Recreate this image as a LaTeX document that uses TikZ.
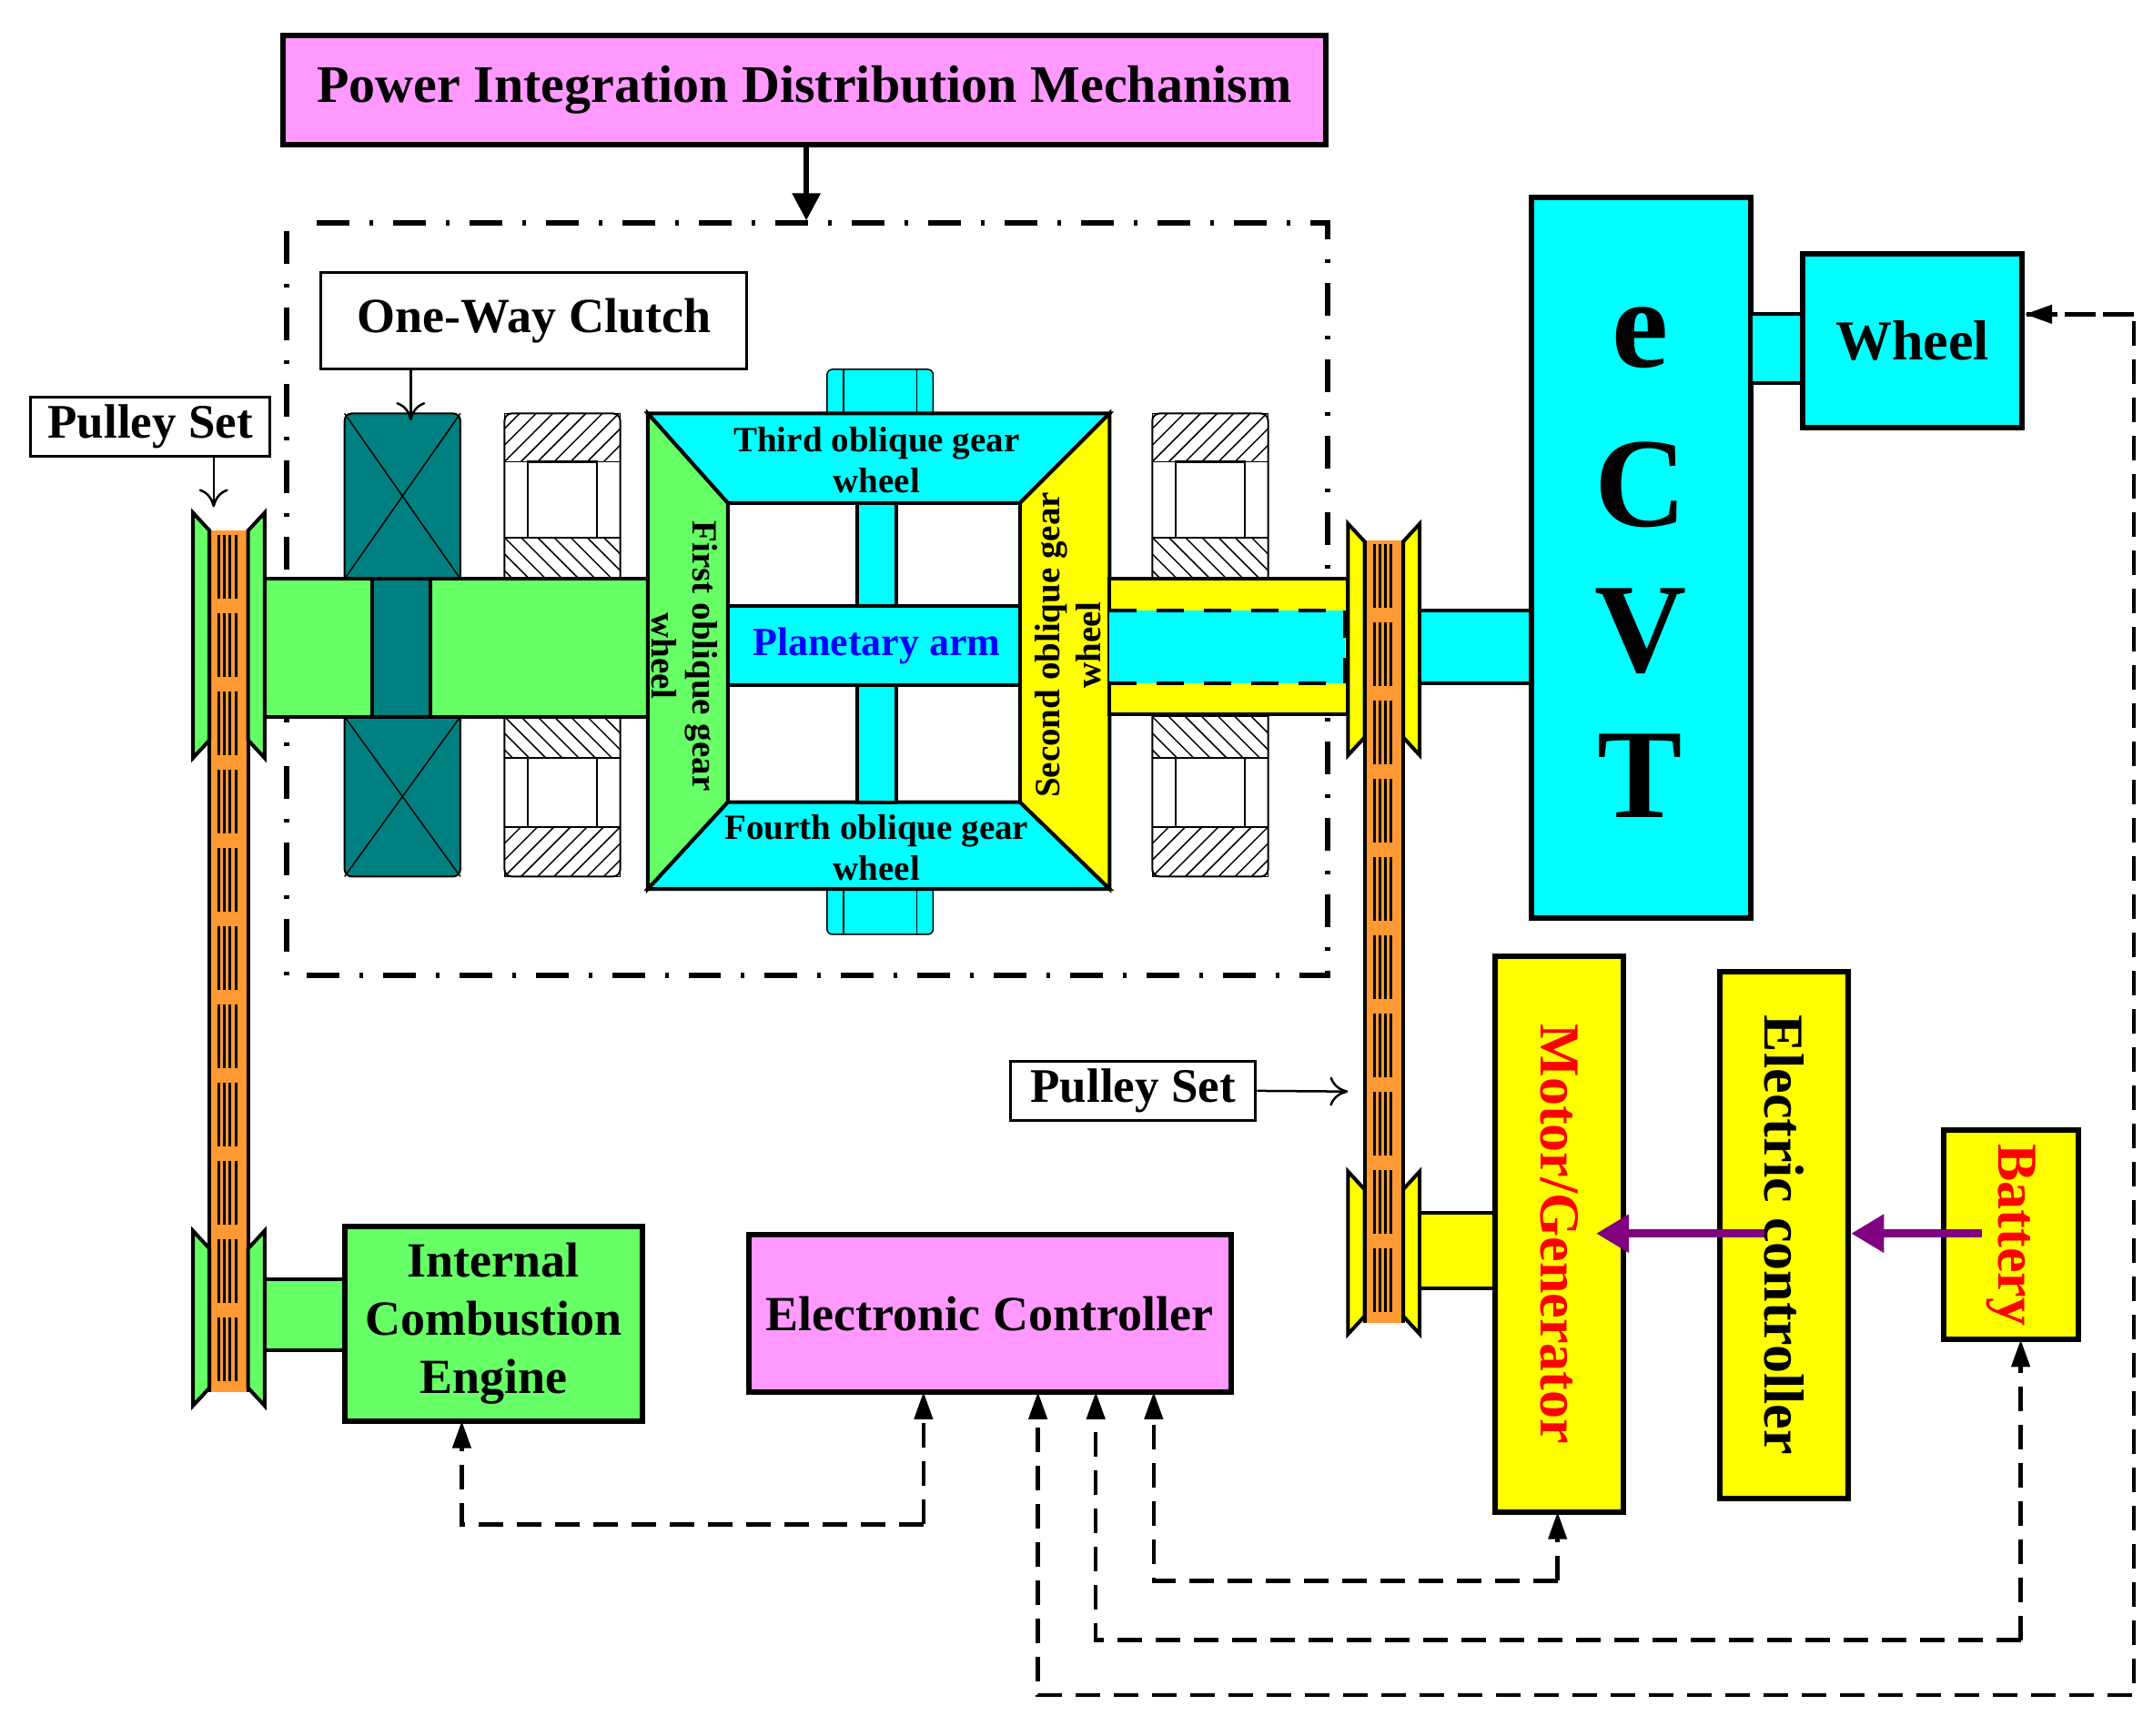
\documentclass[tikz,border=0pt]{standalone}
\usepackage{fontspec}
\setmainfont{Liberation Serif}
\usetikzlibrary{arrows.meta}
\definecolor{cy}{HTML}{00FFFF}
\definecolor{gr}{HTML}{66FF66}
\definecolor{pk}{HTML}{FF99FF}
\definecolor{yl}{HTML}{FFFF00}
\definecolor{tl}{HTML}{008080}
\definecolor{og}{HTML}{FF9933}
\definecolor{pu}{HTML}{800080}
\newcommand{\fz}[2]{\fontsize{#1}{#2}\selectfont\bfseries}
\begin{document}
\begin{tikzpicture}[x=1.515pt,y=-1.515pt,
  thk/.style={line width=6pt},
  med/.style={line width=4pt},
  lbl/.style={draw,line width=3pt,fill=white,inner sep=0pt},
  dsh/.style={line width=4.5pt,dash pattern=on 27pt off 15pt},
  dtip/.style={-{Triangle[length=30pt,width=20pt]}},
  otip/.style={-{To[length=20pt,width=32pt]}}]
\useasboundingbox (0,0) rectangle (1562,1259);
% title
\node[draw,thk,fill=pk,minimum width=757*1.515pt,minimum height=79*1.515pt,font=\fz{58pt}{60pt}] (title) at (583.5,65.5) {Power Integration Distribution Mechanism};
\coordinate (tA) at (585,160);
\draw[line width=6pt,-{Triangle[length=30pt,width=30pt]}] (title.south -| tA) -- (tA);
% dash-dot box
\draw[line width=6pt,dash pattern=on 36pt off 22pt on 4pt off 22pt] (230,162) -- (963,162) -- (963,708) -- (208,708) -- (208,165);
% left belt
\fill[og] (152,385) rectangle (180,1010);
\draw[med] (152,385) -- (152,1010) (180,385) -- (180,1010);
\foreach \xx in {159,163,167,171} \draw[line width=3pt,dash pattern=on 70pt off 16pt] (\xx,388) -- (\xx,1008);
% right belt
\fill[og] (990,392) rectangle (1018,960);
\draw[med] (990,392) -- (990,960) (1018,392) -- (1018,960);
\foreach \xx in {997,1001,1005,1009} \draw[line width=3pt,dash pattern=on 70pt off 16pt] (\xx,395) -- (\xx,958);
% sheaves
\newcommand{\sheave}[5]{%
  \draw[med,fill=#5] (#1,#3) -- (#1+12,#3+13) -- (#1+12,#4-13) -- (#1,#4) -- cycle;
  \draw[med,fill=#5] (#2,#3) -- (#2-12,#3+13) -- (#2-12,#4-13) -- (#2,#4) -- cycle;}
\sheave{140}{192}{372}{550}{gr}
\sheave{140}{192}{893}{1020}{gr}
\sheave{978}{1030}{380}{548}{yl}
\sheave{978}{1030}{850}{968}{yl}
% clutch
\draw[line width=2pt,fill=tl,rounded corners=8pt] (250,300) rectangle (334,636);
\draw[line width=1.5pt] (250,300) -- (334,420) (334,300) -- (250,420) (250,520) -- (334,636) (334,520) -- (250,636);
% bearings
\newcommand{\hatchNE}[4]{\begin{scope}\clip (#1,#2) rectangle (#3,#4);
  \foreach \k in {-60,-48,...,120} \draw[line width=1.5pt] (#1+\k,#4) -- (#1+\k+40,#4-40);\end{scope}
  \draw[line width=1.5pt] (#1,#2) rectangle (#3,#4);}
\newcommand{\hatchNW}[4]{\begin{scope}\clip (#1,#2) rectangle (#3,#4);
  \foreach \k in {-60,-48,...,120} \draw[line width=1.5pt] (#1+\k,#2) -- (#1+\k+40,#2+40);\end{scope}
  \draw[line width=1.5pt] (#1,#2) rectangle (#3,#4);}
\newcommand{\bearing}[1]{%
  \draw[line width=2pt,fill=white,rounded corners=8pt] (#1,300) rectangle (#1+84,636);
  \hatchNE{#1}{300}{#1+84}{335}
  \hatchNW{#1}{390}{#1+84}{420}
  \hatchNW{#1}{520}{#1+84}{550}
  \hatchNE{#1}{600}{#1+84}{636}
  \draw[line width=2.5pt] (#1+17,335) rectangle (#1+67,390) (#1+17,550) rectangle (#1+67,600);}
\bearing{366}
\bearing{836}
% left shaft
\draw[med,fill=gr] (192,420) rectangle (470,520);
\draw[med,fill=tl] (270,420) rectangle (312,520);
% nubs
\draw[line width=1.5pt,fill=cy,rounded corners=6pt] (600,268) rectangle (677,310);
\draw[line width=1.5pt,fill=cy,rounded corners=6pt] (600,635) rectangle (677,678);
\draw[line width=1.2pt] (612,268) -- (612,300) (665,268) -- (665,300) (612,645) -- (612,678) (665,645) -- (665,678);
% planetary frame
\fill[white] (470,300) rectangle (805,645);
\draw[med,fill=cy] (470,300) -- (805,300) -- (740,365) -- (528,365) -- cycle;
\draw[med,fill=cy] (470,645) -- (805,645) -- (740,582) -- (528,582) -- cycle;
\draw[med,fill=gr] (470,300) -- (528,365) -- (528,582) -- (470,645) -- cycle;
\draw[med,fill=yl] (805,300) -- (740,365) -- (740,582) -- (805,645) -- cycle;
\draw[med,fill=cy] (622,365) rectangle (650,440) (622,497) rectangle (650,582);
\draw[med,fill=cy] (528,440) rectangle (740,497);
\node[font=\fz{44pt}{46pt},text=blue] (parm) at (636,469) {Planetary arm};
\node[font=\fz{39pt}{45pt},align=center] (g3) at (636,334) {Third oblique gear\\wheel};
\node[font=\fz{39pt}{45pt},align=center] (g4) at (636,615) {Fourth oblique gear\\wheel};
\node[font=\fz{39pt}{45pt},align=center,rotate=-90] (g1) at (497,476) {First oblique gear\\wheel};
\node[font=\fz{39pt}{45pt},align=center,rotate=90] (g2) at (775,468) {Second oblique gear\\wheel};
% right hollow shaft
\draw[med,fill=yl] (805,420) rectangle (978,518);
\fill[cy] (805,443) rectangle (976,496);
\draw[line width=4pt,dash pattern=on 30pt off 22pt] (805,443) -- (976,443) (805,496) -- (976,496) (976,443) -- (976,496);
\draw[med,fill=cy] (1030,443) rectangle (1111,496);
% eCVT
\draw[thk,fill=cy] (1111,143) rectangle (1270,666);
\node[font=\fz{140pt}{140pt}] (e) at (1190,245) {e};
\node[font=\fz{140pt}{140pt}] (C) at (1190,352) {C};
\node[font=\fz{140pt}{140pt}] (V) at (1190,458) {V};
\node[font=\fz{140pt}{140pt}] (T) at (1190,563) {T};
\draw[med,fill=cy] (1270,228) rectangle (1308,278);
\node[draw,thk,fill=cy,minimum width=159*1.515pt,minimum height=126*1.515pt,font=\fz{62pt}{64pt}] (wheel) at (1387.5,247) {Wheel};
% labels
\node[lbl,minimum width=309*1.515pt,minimum height=70*1.515pt,font=\fz{54pt}{56pt}] (owc) at (387.5,233) {One-Way Clutch};
\coordinate (owcT) at (298,305);
\draw[line width=2.5pt,otip] (owc.south -| owcT) -- (owcT);
\node[lbl,minimum width=174*1.515pt,minimum height=43*1.515pt,font=\fz{53pt}{55pt}] (ps1) at (109,309.5) {Pulley Set};
\coordinate (ps1T) at (155,368);
\draw[line width=2.5pt,otip] (ps1.south -| ps1T) -- (ps1T);
\node[lbl,minimum width=178*1.515pt,minimum height=43*1.515pt,font=\fz{53pt}{55pt}] (ps2) at (822,791.5) {Pulley Set};
\coordinate (ps2t) at (978,792);
\draw[line width=2.5pt,otip] (ps2.east) -- (ps2t);
% motor etc
\draw[med,fill=yl] (1030,880) rectangle (1085,935);
\node[draw,thk,fill=yl,minimum width=93*1.515pt,minimum height=403*1.515pt] (mg) at (1131.5,895.5) {};
\node[font=\fz{62pt}{64pt},text=red,rotate=-90] at (mg) {Motor/Generator};
\node[draw,thk,fill=yl,minimum width=93*1.515pt,minimum height=382*1.515pt] (ec) at (1294.5,896) {};
\node[font=\fz{62pt}{64pt},rotate=-90] at (ec) {Electric controller};
\node[draw,thk,fill=yl,minimum width=98*1.515pt,minimum height=152*1.515pt] (bat) at (1459,896) {};
\node[font=\fz{62pt}{64pt},text=red,rotate=-90] at (bat) {Battery};
\draw[line width=9pt,pu,-{Triangle[length=36pt,width=40pt]}] (1438,895) -- (ec.east |- 0,895);
\draw[line width=9pt,pu,-{Triangle[length=36pt,width=40pt]}] (1280,895) -- (1158,895);
% ICE
\draw[med,fill=gr] (192,928) rectangle (250,980);
\node[draw,thk,fill=gr,minimum width=216*1.515pt,minimum height=141*1.515pt,align=center,font=\fz{54pt}{64pt}] (ice) at (358,960.5) {Internal\\Combustion\\Engine};
\node[draw,thk,fill=pk,minimum width=350*1.515pt,minimum height=114*1.515pt,font=\fz{54pt}{56pt}] (ctrl) at (718,953) {Electronic Controller};
% dashed connections
\coordinate (c1) at (670,1010); \coordinate (c2) at (753,1010); \coordinate (c3) at (795,1010); \coordinate (c4) at (837,1010);
\coordinate (iceB) at (335,1031); \coordinate (mgB) at (1130,1097); \coordinate (batB) at (1466,972);
\draw[dsh,dtip] (670,1106) -- (c1);
\draw[dsh,dtip] (670,1106) -- (335,1106) -- (iceB);
\draw[dsh,dtip] (1130,1147) -- (837,1147) -- (c4);
\draw[dsh,dtip] (1130,1147) -- (mgB);
\draw[dsh,dtip] (1466,1190) -- (795,1190) -- (c3);
\draw[dsh,dtip] (1466,1190) -- (batB);
\draw[dsh,dtip] (1470,228) -- (1548,228) -- (1548,1230) -- (753,1230) -- (c2);
\draw[dsh,dtip] (1548,228) -- (wheel.east |- 0,228);
\end{tikzpicture}
\end{document}
